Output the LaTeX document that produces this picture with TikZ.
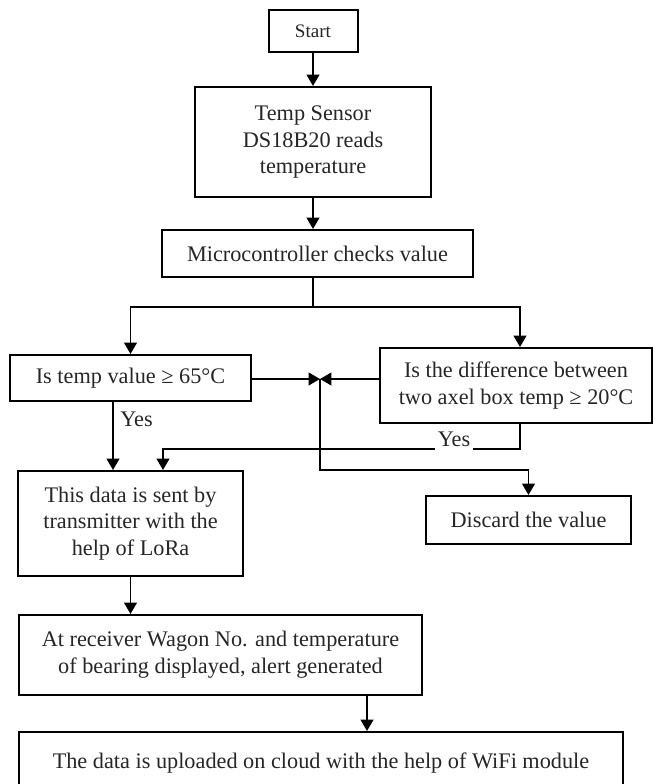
\documentclass[tikz,border=0pt]{standalone}
\usepackage{fontspec}
\setmainfont{Liberation Serif}
\usetikzlibrary{arrows.meta}

\begin{document}
\begin{tikzpicture}[x=0.75pt,y=-0.75pt,
	box/.style={draw,line width=1.5pt,inner sep=0pt,align=center,text=black!85,font=\fontsize{16.7}{20}\selectfont},
	flow/.style={-{Triangle[width=9.5pt,length=8.5pt]},line width=1.4pt},
	note/.style={inner sep=0pt,text=black!85,font=\fontsize{16.7}{20}\selectfont}]
	\clip (0,0) rectangle (654,784);

	\node[box,minimum width=66.75pt,minimum height=31.5pt,font=\fontsize{14.3}{17}\selectfont] (Start) at (313,31) {Start};
	\node[box,minimum width=177pt,minimum height=82.5pt] (TempSensor) at (313,142) {Temp Sensor\\DS18B20 reads\\temperature};
	\node[box,minimum width=233.25pt,minimum height=35.25pt] (Microcontroller) at (317.5,253.5) {Microcontroller checks value};

	\node[box,minimum width=180.75pt,minimum height=34.5pt] (TempCheck) at (130.5,378) {Is temp value ≥ 65°C};
	\node[box,minimum width=204pt,minimum height=56.25pt] (DiffCheck) at (516,385.5) {Is the difference between\\two axel box temp ≥ 20°C};

	\node[box,minimum width=168.75pt,minimum height=78.75pt] (Transmitter) at (130.5,523.5) {This data is sent by\\transmitter with the\\help of LoRa};
	\node[box,minimum width=153.75pt,minimum height=36pt] (Discard) at (528.5,520) {Discard the value};
	\node[box,minimum width=302.25pt,minimum height=60pt] (Receiver) at (220.5,655) {At receiver Wagon No. and temperature\\of bearing displayed, alert generated};
	\node[box,minimum width=453pt,minimum height=46.5pt] (Cloud) at (321,763) {The data is uploaded on cloud with the help of WiFi module};

	\coordinate (Branch) at (313,307);
	\coordinate (Meet) at (320,379);
	\coordinate (Split) at (320,470);
	\coordinate (YesLeft) at (113,401);
	\coordinate (YesRight) at (520,423);
	\coordinate (Merge) at (163,449);
	\coordinate (ToCloud) at (367,695);

	\draw[flow] (Start) -- (TempSensor);
	\draw[flow] (TempSensor.south) -- (TempSensor.south |- Microcontroller.north);
	\draw[line width=1.4pt] (TempSensor.south |- Microcontroller.south) -- (Branch);
	\draw[flow] (Branch) -| (TempCheck.north);
	\draw[flow] (Branch) -| (DiffCheck.north -| YesRight);

	\draw[flow] (TempCheck.east |- Meet) -- (Meet);
	\draw[flow] (DiffCheck.west |- Meet) -- (Meet);
	\draw[flow] (Meet) -- (Split) -| (Discard.north);

	\draw[flow] (YesLeft) -- (YesLeft |- Transmitter.north);
	\draw[flow] (YesRight) |- (Merge) -- (Merge |- Transmitter.north);
	\node[note,anchor=west] (YesA) at (120,419) {Yes};
	\node[note,fill=white,inner xsep=2pt,inner ysep=4pt] (YesB) at (454,439) {Yes};

	\draw[flow] (Transmitter.south) -- (Transmitter.south |- Receiver.north);
	\draw[flow] (ToCloud) -- (ToCloud |- Cloud.north);
\end{tikzpicture}
\end{document}
